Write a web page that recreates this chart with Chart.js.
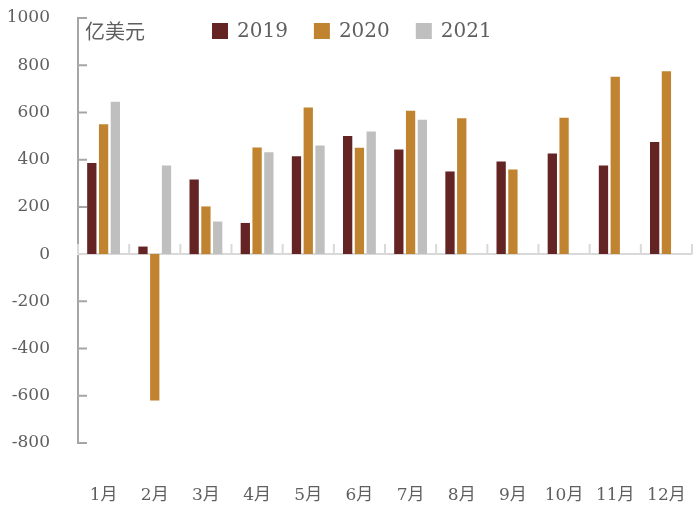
<!DOCTYPE html>
<html>
<head>
<meta charset="utf-8">
<script src="https://cdn.jsdelivr.net/npm/chart.js@4.4.1/dist/chart.umd.min.js"></script>
<style>
    html, body { margin: 0; padding: 0; background: #ffffff; }
    #wrap { width: 700px; height: 507px; }
</style>
</head>
<body>
<div id="wrap"><canvas id="chart_trade"></canvas></div>
<script>
// data (亿美元)
let months = ["1月", "2月", "3月", "4月", "5月", "6月", "7月", "8月", "9月", "10月", "11月", "12月"];
let val_2019 = [386, 32, 316, 132, 414, 500, 443, 350, 392, 426, 375, 475];
let val_2020 = [550, -620, 202, 452, 621, 451, 607, 575, 358, 578, 751, 774];
let val_2021 = [645, 375, 138, 431, 460, 519, 569, null, null, null, null, null];
let y_ticks = [-800, -600, -400, -200, 0, 200, 400, 600, 800, 1000];
let unit_label = "亿美元";

let txtColor = "#5f5f5f";
let fontFam = "'DejaVu Serif', 'Noto Sans CJK SC', serif";

// axis lines with inward tick marks, drawn by hand
let axisPlugin = {
    id: "axisPlugin",
    beforeDatasetsDraw: function (chart) {
        let ctx = chart.ctx;
        let area = chart.chartArea;
        let x = chart.scales.x;
        let y = chart.scales.y;
        let y0 = y.getPixelForValue(0);
        let half = (x.getPixelForTick(1) - x.getPixelForTick(0)) / 2;

        ctx.save();
        ctx.strokeStyle = "#d9d9d9";
        ctx.lineWidth = 2;
        ctx.beginPath();
        ctx.moveTo(area.left, y0);
        ctx.lineTo(area.right, y0);
        // little ticks between months, pointing up
        for (let i = 0; i <= months.length; i++) {
            let px = i < months.length ? x.getPixelForTick(i) - half : x.getPixelForTick(i - 1) + half;
            ctx.moveTo(px, y0);
            ctx.lineTo(px, y0 - 10);
        }
        ctx.stroke();
        ctx.restore();
    },
    afterDatasetsDraw: function (chart) {
        let ctx = chart.ctx;
        let area = chart.chartArea;
        let y = chart.scales.y;
        let y0 = y.getPixelForValue(0);

        ctx.save();
        ctx.strokeStyle = "#a6a6a6";
        ctx.lineWidth = 2;
        ctx.beginPath();
        ctx.moveTo(area.left, area.top);
        ctx.lineTo(area.left, y0 - 10);
        ctx.moveTo(area.left, y0 + 1);
        ctx.lineTo(area.left, area.bottom);
        y_ticks.forEach(function (v) {
            if (v == 0) return;
            let py = y.getPixelForValue(v);
            ctx.moveTo(area.left - 1, py);
            ctx.lineTo(area.left + 9, py);
        });
        ctx.stroke();
        ctx.restore();
    },
};

// unit text and legend sitting inside the plot area
let legendPlugin = {
    id: "legendPlugin",
    afterDraw: function (chart) {
        let ctx = chart.ctx;
        let area = chart.chartArea;

        ctx.save();
        ctx.fillStyle = txtColor;
        ctx.textBaseline = "middle";
        ctx.font = "20px 'Noto Sans CJK SC', sans-serif";
        ctx.fillText(unit_label, area.left + 7, area.top + 13);

        ctx.font = "20px " + fontFam;
        let lx = 212;
        let ly = area.top + 13;
        chart.data.datasets.forEach(function (ds) {
            ctx.fillStyle = ds.backgroundColor;
            ctx.fillRect(lx, ly - 8, 16, 16);
            ctx.fillStyle = txtColor;
            ctx.fillText(ds.label, lx + 25, ly + 1);
            lx += 25 + ctx.measureText(ds.label).width + 26;
        });
        ctx.restore();
    },
};

let chart_trade = new Chart(document.getElementById("chart_trade"), {
    type: "bar",
    data: {
        labels: months,
        datasets: [
            { label: "2019", data: val_2019, backgroundColor: "#642424" },
            { label: "2020", data: val_2020, backgroundColor: "#c0832f" },
            { label: "2021", data: val_2021, backgroundColor: "#bfbfbf" },
        ],
    },
    options: {
        responsive: true,
        maintainAspectRatio: false,
        animation: false,
        categoryPercentage: 0.69,
        barPercentage: 0.79,
        layout: { padding: { top: 18, right: 8, left: 0, bottom: 0 } },
        scales: {
            x: {
                grid: { display: false },
                border: { display: false },
                ticks: {
                    color: txtColor,
                    padding: 34,
                    maxRotation: 0,
                    font: { family: fontFam, size: 17 },
                },
                afterFit: function (scale) {
                    scale.height = 64;
                    scale.paddingLeft = 0;
                    scale.paddingRight = 0;
                },
            },
            y: {
                min: -800,
                max: 1000,
                grid: { display: false },
                border: { display: false },
                afterBuildTicks: function (scale) {
                    scale.ticks = y_ticks.map(function (v) { return { value: v }; });
                },
                ticks: {
                    color: txtColor,
                    padding: 20,
                    font: { family: fontFam, size: 17 },
                    callback: function (value) {
                        return String(value);
                    },
                },
                afterFit: function (scale) {
                    scale.width = 78;
                    scale.paddingTop = 0;
                    scale.paddingBottom = 0;
                },
            },
        },
        plugins: {
            legend: { display: false },
            tooltip: { enabled: false },
        },
    },
    plugins: [axisPlugin, legendPlugin],
});
</script>
</body>
</html>
